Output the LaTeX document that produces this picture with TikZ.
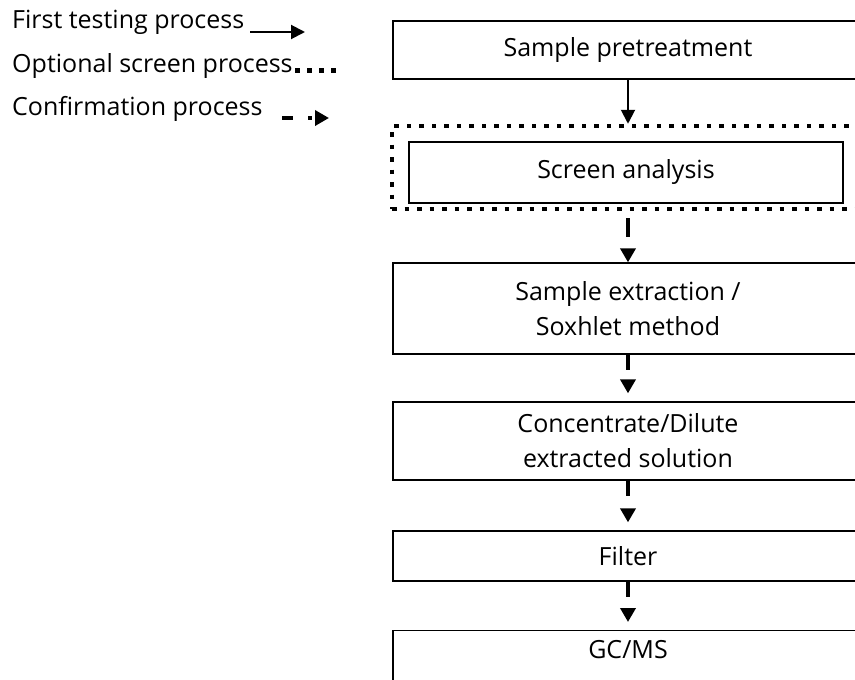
\documentclass[tikz,border=0pt]{standalone}
\usepackage{fontspec}
\setmainfont{Open Sans}
\usetikzlibrary{arrows.meta}
\tikzset{%
  procbox/.style={draw,line width=1.3pt,minimum width=470pt,inner sep=0pt,align=center,font=\fontsize{25}{35}\selectfont},
  screenframe/.style={draw,line width=4.5pt,dash pattern=on 4.5pt off 8pt,minimum width=468pt,minimum height=83pt,inner sep=0pt},
  legtext/.style={anchor=base west,inner sep=0pt,font=\fontsize{25}{35}\selectfont},
  firstarrow/.style={draw,line width=2pt,-{Triangle[length=14pt,width=14pt]}},
  confarrow/.style={draw,line width=3.5pt,dash pattern=on 15pt off 40pt,-{Triangle[length=14pt,width=15pt]},shorten >=8pt},
  screendots/.style={draw,line width=5pt,dash pattern=on 5pt off 7pt}
}
\begin{document}
\begin{tikzpicture}[x=1pt,y=-1pt]
  \useasboundingbox (0,0) rectangle (855,680);
  % legend
  \path
    (12,28) node (leg1)[legtext]{First testing process}
    (12,72) node (leg2)[legtext]{Optional screen process}
    (12,115) node (leg3)[legtext]{Confirmation process};
  \coordinate (l1a) at (250,32);
  \coordinate (l1b) at (305,32);
  \coordinate (l2a) at (295,70.5);
  \coordinate (l2b) at (338,70.5);
  \coordinate (l3a) at (282,118);
  \coordinate (l3b) at (329,118);
  \draw[firstarrow] (l1a) -- (l1b);
  \draw[screendots] (l2a) -- (l2b);
  \draw[confarrow,dash pattern=on 11pt off 15pt on 4pt off 40pt,shorten >=0pt] (l3a) -- (l3b);
  % process chain
  \path
    (628,50) node (pretreat)[procbox,minimum height=58pt]{Sample pretreatment}
    (626,167.5) node (screenbox)[screenframe]{}
    (626,172.5) node (screen)[procbox,minimum width=434pt,minimum height=61pt]{Screen analysis}
    (628,308.5) node (extract)[procbox,minimum height=91pt]{Sample extraction /\\Soxhlet method}
    (628,441) node (dilute)[procbox,minimum height=78pt]{Concentrate/Dilute\\extracted solution}
    (628,556) node (filter)[procbox,minimum height=50pt]{Filter}
    (628,630) node (gcms)[procbox,anchor=north,inner ysep=9pt,text height=19pt,text depth=45pt]{GC/MS};
  \draw[firstarrow] (pretreat.south) -- (pretreat.south |- screenbox.north);
  \draw[confarrow,shorten <=7pt,shorten >=0pt,dash pattern=on 19pt off 40pt] (screenbox.south -| extract.north) -- (extract.north);
  \draw[confarrow] (extract) -- (dilute);
  \draw[confarrow] (dilute) -- (filter);
  \draw[confarrow] (filter) -- (gcms);
\end{tikzpicture}
\end{document}
